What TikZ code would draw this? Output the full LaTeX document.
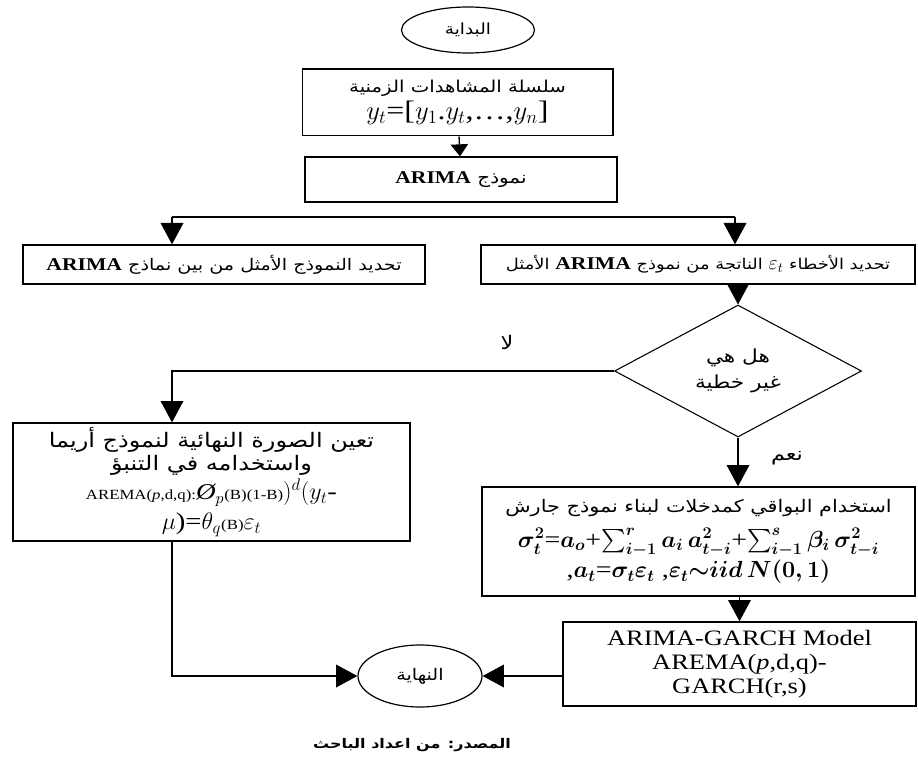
\documentclass[tikz,border=0pt]{standalone}
\usepackage{fix-cm}
\usepackage{amsmath}
\usepackage{amssymb}
\usepackage{fontspec}
\setmainfont{Liberation Serif}[FakeStretch=1.2]
\newfontfamily\arabicfont[Script=Arabic,FakeStretch=1.2]{DejaVu Sans}
\TeXXeTstate=1
\usetikzlibrary{shapes.geometric,arrows.meta}

\begin{document}
\begin{tikzpicture}[x=0.75pt,y=0.75pt,yscale=-1,xscale=1,
	box/.style={draw,rectangle,line width=1pt,inner sep=2pt,align=center},
	oval/.style={draw,ellipse,line width=0.9pt,inner sep=0pt},
	rhomb/.style={draw,diamond,line width=0.8pt,inner sep=0pt,align=center},
	bigtip/.style={line width=1pt,-{Triangle[length=16pt,width=17pt]}},
	smalltip/.style={line width=1pt,-{Triangle[length=9pt,width=13pt]}},
	ar/.style={font=\arabicfont\fontsize{12}{15}\selectfont}]
	\useasboundingbox (0,0) rectangle (918,763);
	
	%Shape: Ellipse
	\node [oval,minimum width=99.75pt,minimum height=34.5pt,font=\arabicfont\fontsize{11.5}{12}\selectfont] (start) at (468,30) {\beginR البداية\endR};
	%Shape: Rectangle
	\node [box,minimum width=233pt,minimum height=50pt,font=\arabicfont\fontsize{12.3}{20}\selectfont] (series) at (457.5,102.5) {\beginR سلسلة المشاهدات الزمنية\endR\\
		{\rmfamily\fontsize{20}{20}\selectfont $y_t$=[$y_1$.$y_t$,\ldots,$y_n$]}};
	%Shape: Rectangle
	\node [box,minimum width=234pt,minimum height=33.75pt,font=\arabicfont\fontsize{12.5}{15}\selectfont] (arima) at (461,179.5) {\beginR نموذج \beginL{\rmfamily\bfseries\fontsize{13.5}{15}\selectfont ARIMA}\endL\endR};
	
	%Shape: Rectangle
	\node [box,minimum width=301.5pt,minimum height=29.25pt,ar] (best) at (224,264.5) {\beginR تحديد النموذج الأمثل من بين نماذج \beginL{\rmfamily\bfseries\fontsize{13.5}{15}\selectfont ARIMA}\endL\endR};
	%Shape: Rectangle
	\node [box,minimum width=325.5pt,minimum height=29.25pt,font=\arabicfont\fontsize{11.2}{15}\selectfont] (errors) at (698,264.5) {\beginR تحديد الأخطاء \beginL{\fontsize{15}{15}\selectfont$\varepsilon_t$}\endL{} الناتجة من نموذج \beginL{\rmfamily\bfseries\fontsize{13.5}{15}\selectfont ARIMA}\endL{} الأمثل\endR};
	%Shape: Diamond
	\node [rhomb,minimum width=185.25pt,minimum height=99pt,font=\arabicfont\fontsize{13.5}{20}\selectfont] (test) at (738,371) {\beginR هل هي\endR\\\beginR غير خطية\endR};
	
	%Shape: Rectangle
	\node [box,minimum width=297.75pt,minimum height=88.5pt,font=\arabicfont\fontsize{15}{17}\selectfont] (final) at (211.5,482) {\beginR تعين الصورة النهائية لنموذج أريما\endR\\
		\beginR واستخدامه في التنبؤ\endR\\[2pt]
		{\rmfamily\fontsize{10.5}{11}\selectfont AREMA(\textit{p},d,q):}{\rmfamily\fontsize{17}{17}\selectfont{\itshape Ø}$_p$}{\rmfamily\fontsize{10.5}{11}\selectfont(B)(1-B)}{\rmfamily\fontsize{18}{18}\selectfont$)^d(y_t$-}\\[4pt]
		{\rmfamily\fontsize{18}{18}\selectfont$\mu$)=$\theta_q$}{\rmfamily\fontsize{10.5}{11}\selectfont(B)}{\rmfamily\fontsize{18}{18}\selectfont$\varepsilon_t$}};
	%Shape: Rectangle
	\node [box,minimum width=324.75pt,minimum height=81.75pt,font=\arabicfont\fontsize{13}{21}\selectfont] (garchin) at (698.5,541.5) {\beginR استخدام البواقي كمدخلات لبناء نموذج جارش\endR\\[5pt]
		{\rmfamily\fontsize{17.5}{21}\selectfont$\boldsymbol{\sigma_t^2}$=$\boldsymbol{a_o}$+$\boldsymbol{\sum_{i-1}^{r}a_i\,a_{t-i}^2}$+$\boldsymbol{\sum_{i-1}^{s}\beta_i\,\sigma_{t-i}^2}$}\\[2pt]
		{\rmfamily\fontsize{17.5}{21}\selectfont,$\boldsymbol{a_t}$=$\boldsymbol{\sigma_t\varepsilon_t}$ ,$\boldsymbol{\varepsilon_t{\sim}iid\,N(0,1)}$}};
	%Shape: Rectangle
	\node [box,minimum width=264.75pt,minimum height=63pt,font=\fontsize{16.5}{18}\selectfont] (garch) at (739.5,664) {ARIMA-GARCH Model\\AREMA(\textit{p},d,q)-\\GARCH(r,s)};
	%Shape: Ellipse
	\node [oval,minimum width=93pt,minimum height=46.5pt,font=\arabicfont\fontsize{12}{14}\selectfont] (end) at (420,676) {\beginR النهاية\endR};
	
	%Straight Lines
	\coordinate (splitL) at (172,217);
	\coordinate (splitR) at (735,217);
	\draw [smalltip] (series) -- (arima);
	\draw [line width=1pt] (splitL) -- (splitR);
	\draw [bigtip] (splitL) -- (splitL |- best.north);
	\draw [bigtip] (splitR) -- (splitR |- errors.north);
	\draw [bigtip] (errors.south -| test) -- (test.north);
	\draw [bigtip] (test.west) -| (splitL |- final.north);
	\draw [bigtip] (test.south) -- (test.south |- garchin.north);
	\draw [bigtip] (garch.north |- garchin.south) -- (garch.north);
	\draw [bigtip] (garch.west |- end.east) -- (end.east);
	\draw [bigtip] (splitL |- final.south) |- (end.west);
	
	% Text Node
	\node [font=\arabicfont\fontsize{14}{16}\selectfont] (no) at (507,342) {\beginR لا\endR};
	% Text Node
	\node [font=\arabicfont\fontsize{14}{16}\selectfont] (yes) at (787,458) {\beginR نعم\endR};
	% Text Node
	\node [font=\arabicfont\bfseries\fontsize{10}{14}\selectfont] (source) at (412,745) {\beginR المصدر: من اعداد الباحث\endR};
	
\end{tikzpicture}
\end{document}
